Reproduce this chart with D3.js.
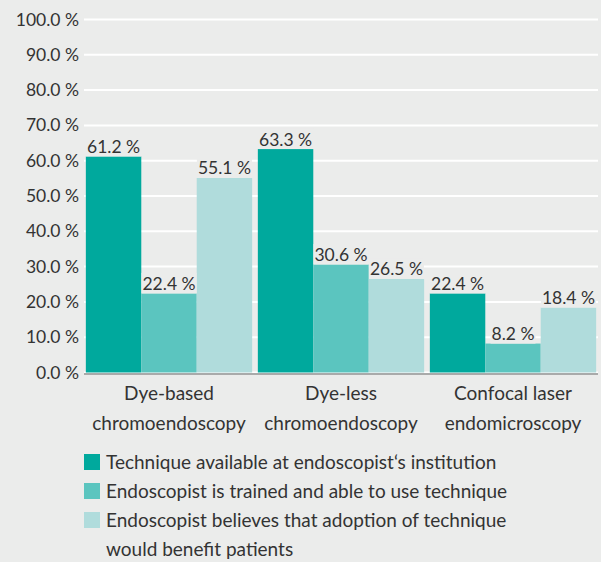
<!DOCTYPE html>
<html><head><meta charset="utf-8">
<script src="https://cdn.jsdelivr.net/npm/d3@7"></script>
<style>
html,body{margin:0;padding:0;background:#ebeceb;}
svg{display:block;}
text{font-family:Lato, sans-serif;fill:#333;}
</style></head>
<body>
<svg id="c" width="601" height="562"></svg>
<script>
const categories = [["Dye-based","chromoendoscopy"],["Dye-less","chromoendoscopy"],["Confocal laser","endomicroscopy"]];
const seriesNames = ["Technique available at endoscopist‘s institution","Endoscopist is trained and able to use technique","Endoscopist believes that adoption of technique|would benefit patients"];
const available = [61.2, 63.3, 22.4];
const trained = [22.4, 30.6, 8.2];
const benefit = [55.1, 26.5, 18.4];
const yTicks = [0,10,20,30,40,50,60,70,80,90,100];
const colors = ["#00a99d","#5bc5bf","#b0dcdc"];

(function(){
const series = [available, trained, benefit];
const svg = d3.select("#c");
const W=601,H=562;
svg.append("rect").attr("width",W).attr("height",H).attr("fill","#ebeceb");
const numSize = 17.5, wordSize = 19;
const pLeft=83, pRight=599, pTop=19.5, pBottom=372.5;
const x = d3.scaleBand().domain(d3.range(categories.length)).range([pLeft,pRight]).paddingInner(0.033).paddingOuter(0.0165);
const xs = d3.scaleBand().domain(d3.range(series.length)).range([0,x.bandwidth()]);
const y = d3.scaleLinear().domain([0,100]).range([pBottom,pTop]);

svg.append("g").selectAll("line").data(yTicks).join("line")
  .attr("x1",84).attr("x2",598).attr("y1",d=>y(d)).attr("y2",d=>y(d))
  .attr("stroke","#fff").attr("stroke-width",2);
svg.append("g").selectAll("text").data(yTicks).join("text")
  .attr("x",79).attr("y",d=>y(d)+6).attr("text-anchor","end")
  .style("font-size",numSize+"px").text(d=>d3.format(".1f")(d)+" %");

const g = svg.append("g");
series.forEach((vals,si)=>{
  g.selectAll(null).data(vals).join("rect")
   .attr("x",(d,i)=>x(i)+xs(si)).attr("width",xs.bandwidth())
   .attr("y",d=>y(d)).attr("height",d=>y(0)-y(d)).attr("fill",colors[si]);
});
svg.append("line").attr("x1",84).attr("x2",598).attr("y1",pBottom+1.5).attr("y2",pBottom+1.5).attr("stroke","#a9aaaa").attr("stroke-width",2);

const lg = svg.append("g");
series.forEach((vals,si)=>{
  vals.forEach((v,i)=>{
    const cx = x(i)+xs(si)+xs.bandwidth()/2;
    const t = lg.append("text").attr("x",cx).attr("y",y(v)-3.5).attr("text-anchor","middle")
      .style("font-size",numSize+"px").text(d3.format(".1f")(v)+" %");
    const b = t.node().getBBox();
    lg.insert("rect","text").attr("x",b.x-1).attr("y",b.y).attr("width",b.width+2).attr("height",y(v)-b.y).attr("fill","#ebeceb");
  });
});

categories.forEach((lines,i)=>{
  const cx = x(i)+x.bandwidth()/2;
  lines.forEach((ln,j)=>{
    svg.append("text").attr("x",cx).attr("y",400+j*30).attr("text-anchor","middle")
      .style("font-size",wordSize+"px").text(ln);
  });
});

const leg = svg.append("g");
let row=0;
seriesNames.forEach((name,si)=>{
  leg.append("rect").attr("x",84).attr("y",454+row*29).attr("width",16).attr("height",16).attr("fill",colors[si]);
  name.split("|").forEach(part=>{
    leg.append("text").attr("x",106).attr("y",469+row*29).style("font-size",wordSize+"px").text(part);
    row++;
  });
});
})();
</script>
</body></html>
